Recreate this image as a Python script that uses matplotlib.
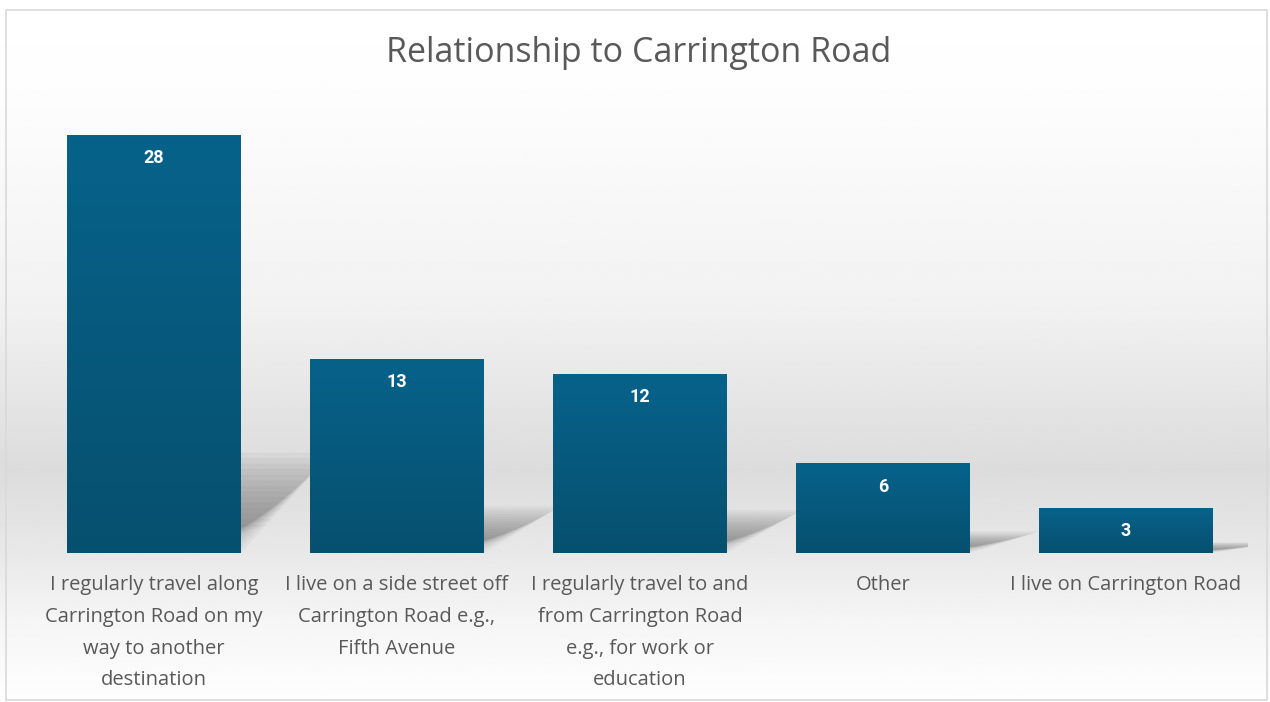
import numpy as np
import matplotlib.pyplot as plt
from matplotlib.patches import Polygon, Rectangle
from matplotlib.colors import LinearSegmentedColormap

categories = [
    "I regularly travel along\nCarrington Road on my\nway to another\ndestination",
    "I live on a side street off\nCarrington Road e.g.,\nFifth Avenue",
    "I regularly travel to and\nfrom Carrington Road\ne.g., for work or\neducation",
    "Other",
    "I live on Carrington Road",
]
values = [28, 13, 12, 6, 3]

plt.rcParams['font.family'] = ['Open Sans', 'DejaVu Sans']

W, H = 1270, 702
fig = plt.figure(figsize=(W / 100, H / 100), dpi=100)

# background gradient over the whole chart area
bg = fig.add_axes([0, 0, 1, 1], zorder=-10)
ys = np.array([0, 90, 300, 470, 553, 620, 702]) / H
gs = np.array([255, 253, 242, 220, 232, 245, 254]) / 255
yy = np.linspace(0, 1, 400)
col = np.interp(yy, ys, gs)
img = np.repeat(col[:, None], 2, axis=1)
bg.imshow(img, cmap='gray', vmin=0, vmax=1, aspect='auto', extent=[0, 1, 1, 0])
bg.add_patch(Rectangle((6 / W, 10 / H), 1 - 9 / W, 1 - 12 / H, fill=False,
                       edgecolor='#d9d9d9', lw=1.2))
bg.set_xlim(0, 1)
bg.set_ylim(1, 0)
bg.axis('off')

ax = fig.add_axes([32.5 / W, 149 / H, 1215 / W, 448 / H])
ax.patch.set_alpha(0)
x = np.arange(len(values))
width = 0.716
bars = ax.bar(x, values, width=width, color='none', zorder=3)

bar_cmap = LinearSegmentedColormap.from_list('b', ['#07506f', '#06628a'])
grad = np.linspace(0, 1, 100)[:, None]
for b, v in zip(bars, values):
    x0 = b.get_x()
    x1 = x0 + b.get_width()
    # soft floor shadow behind the bar
    k = 0.24 * v
    dx = 0.26 + 0.004 * v
    n = 14
    for i in range(n):
        s = 1 - i * 0.055
        poly = Polygon([(x0 + 0.05, 0), (x1 - 0.02 * i, 0),
                        (x1 + dx * s, k * s), (x0 + dx * s, k * s)],
                       closed=True, facecolor='#606060', alpha=0.06, lw=0,
                       zorder=1)
        ax.add_patch(poly)
    im = ax.imshow(grad, cmap=bar_cmap, aspect='auto', origin='lower',
                   extent=[x0, x1, 0, v], zorder=3)
    im.set_clip_path(b)
    ax.text(b.get_x() + b.get_width() / 2, v - 1.55, str(v), ha='center',
            va='center', color='white', fontsize=13, fontweight='bold',
            family=['Roboto', 'DejaVu Sans'], zorder=5)

ax.set_xlim(-0.5, len(values) - 0.5)
ax.set_ylim(0, 30)
ax.set_xticks(x)
ax.set_xticklabels(categories, fontsize=14.5, color='#595959', linespacing=1.78,
                   va='top')
ax.tick_params(axis='x', length=0, pad=16)
ax.set_yticks([])
for sp in ax.spines.values():
    sp.set_visible(False)

fig.text(639 / W, 1 - 53 / H, "Relationship to Carrington Road", ha='center',
         va='center', fontsize=24.5, color='#595959')

fig.savefig('out.png', dpi=100)
